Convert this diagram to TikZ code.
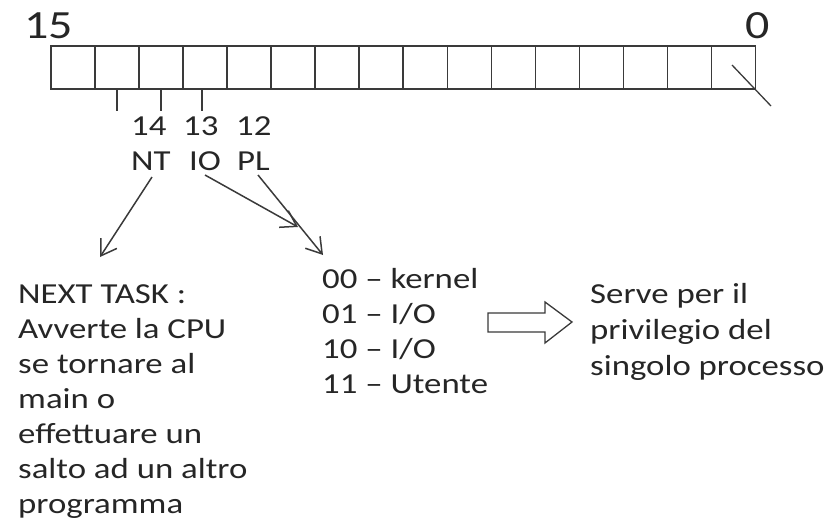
\documentclass[tikz,border=0pt]{standalone}
\usepackage{fontspec}
\setmainfont{Carlito}[FakeStretch=1.2]
\usetikzlibrary{arrows.meta}
\definecolor{ink}{HTML}{262626}
\definecolor{wire}{HTML}{3A3A3A}
\begin{document}
\begin{tikzpicture}[x=1pt,y=-1pt,
  txt/.style={font=\fontsize{29}{35}\selectfont, text=ink, inner sep=0pt, anchor=base west, align=left},
  big/.style={font=\fontsize{40}{48}\selectfont, text=ink, inner sep=0pt, anchor=base west},
  cell/.style={draw=wire, line width=1.5pt, minimum width=44.06pt, minimum height=43pt, inner sep=0pt, anchor=north west},
  reg/.style={draw=wire, line width=1.5pt},
  arr/.style={draw=wire, line width=1.5pt, -{Straight Barb[length=15pt,width=19pt,line width=1.5pt]}}]
\useasboundingbox (0,0) rectangle (836,525);
% register
\foreach \k in {0,...,15}{
  \pgfmathtruncatemacro{\bit}{15-\k}
  \node[cell] (b\bit) at ({50+44.06*\k},45) {};
}
\node[big] (l15) at (24,38) {15};
\node[big] (l0) at (745,38) {0};
% ticks
\draw[reg] (b14.south) -- ++(0,21);
\draw[reg] (b13.south) -- ++(0,21);
\draw[reg] ([xshift=-3pt]b12.south) -- ++(0,21);
% diagonal in bit 0
\coordinate (dA) at (732,65);
\coordinate (dB) at (771,106);
\draw[reg, line width=1.3pt] (dA) -- (dB);
% labels
\node[txt] (n14) at (131,135) {14};
\node[txt] (n13) at (183,135) {13};
\node[txt] (n12) at (236,135) {12};
\node[txt] (nt) at (131,170) {NT};
\node[txt] (io) at (189,170) {IO};
\node[txt] (pl) at (237,170) {PL};
% text blocks (base anchor = baseline of last line)
\node[txt] (next) at (18,513) {NEXT TASK :\\Avverte la CPU\\se tornare al\\main o\\effettuare un\\salto ad un altro\\programma};
\node[txt] (pls) at (322,393) {00 – kernel\\01 – I/O\\10 – I/O\\11 – Utente};
\node[txt, font=\fontsize{29}{36}\selectfont] (serve) at (590,375) {Serve per il\\privilegio del\\singolo processo};
% arrows
\coordinate (ntA) at (152,177);
\coordinate (ntB) at (100,257);
\coordinate (ioA) at (205,175);
\coordinate (ioB) at (298,227);
\coordinate (plA) at (258,175);
\coordinate (plB) at (323,255);
\draw[arr] (ntA) -- (ntB);
\draw[arr] (ioA) -- (ioB);
\draw[arr] (plA) -- (plB);
% block arrow
\draw[draw=wire, line width=1.3pt, fill=white] (488,313) -- (545,313) -- (545,302) -- (572,322) -- (545,343) -- (545,332) -- (488,332) -- cycle;
\end{tikzpicture}
\end{document}
